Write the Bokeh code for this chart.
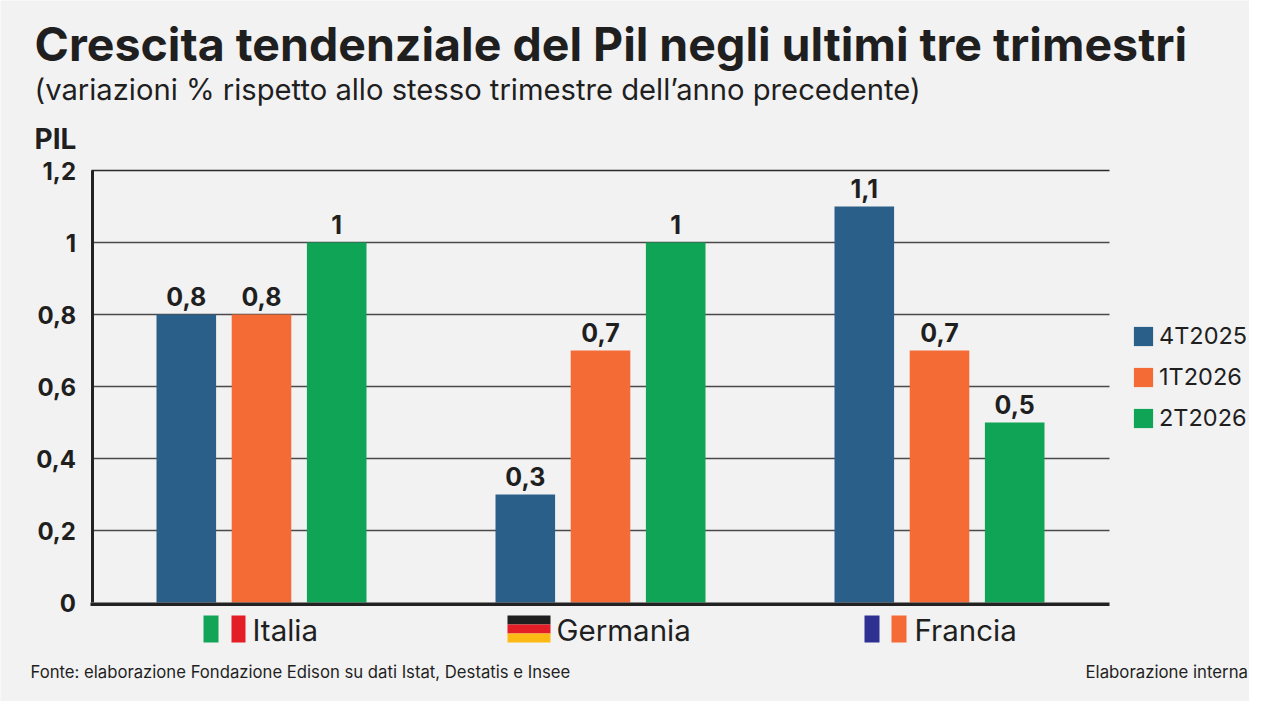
from bokeh.plotting import figure
from bokeh.core.properties import value
from bokeh.models import (ColumnDataSource, Range1d, FixedTicker, Label, BoxAnnotation, LinearAxis,
                          Legend, LegendItem)
from bokeh.embed import file_html
from bokeh.resources import INLINE

countries = ["Italia", "Germania", "Francia"]
quarters = ["4T2025", "1T2026", "2T2026"]
q4_2025 = [0.8, 0.3, 1.1]
q1_2026 = [0.8, 0.7, 0.7]
q2_2026 = [1.0, 1.0, 0.5]
y_ticks = [0, 0.2, 0.4, 0.6, 0.8, 1, 1.2]
colors = ["#2a5f8a", "#f46b36", "#10a457"]

BG = "#f2f2f2"
FONT = "Inter"
INK = "#1f1f1f"
W, H = 1249, 701

# pixel geometry of the reference: first group centre + spacing, y=0 pixel + px per unit
X0, XS = 261.0, 339.0
Y0, YS = 602.0, 360.0


def it(v):
    return f"{v:g}".replace(".", ",")


def dx(px):
    return (px - X0) / XS


p = figure(width=W, height=H, output_backend="svg", toolbar_location=None,
           x_axis_type=None, y_axis_type=None,
           x_range=Range1d(dx(0), dx(W)),
           y_range=Range1d((Y0 - H) / YS, Y0 / YS),
           background_fill_color=BG, border_fill_color=BG, outline_line_color=None,
           min_border=0, min_border_left=0, min_border_right=0, min_border_top=0, min_border_bottom=0)
p.styles = {"position": "absolute", "left": "0", "top": "0"}

p.xgrid.visible = False
p.ygrid.visible = False

p.segment(x0=dx(91), x1=dx(1109), y0=y_ticks[1:-1], y1=y_ticks[1:-1], line_color="#4a4a4a", line_width=1.3)
p.segment(x0=dx(91), x1=dx(1109), y0=[1.2], y1=[1.2], line_color="#2a2a2a", line_width=1.6)

step = 75.2 / XS
width = 59.6 / XS
cat_x = list(range(len(countries)))
legend_items = []
for i, (q, vals, col) in enumerate(zip(quarters, [q4_2025, q1_2026, q2_2026], colors)):
    src = ColumnDataSource(dict(x=[c + (i - 1) * step for c in cat_x], val=vals, lab=[it(v) for v in vals]))
    r = p.vbar(x="x", top="val", width=width, source=src, fill_color=col, line_color=None)
    p.text(x="x", y="val", text="lab", source=src, text_align="center", text_baseline="middle",
           y_offset=-18, text_font=value(FONT), text_font_style="bold", text_font_size=value("25px"),
           text_color=INK)
    legend_items.append(LegendItem(label=q, renderers=[r]))

p.segment(x0=dx(90), x1=dx(1109), y0=[-0.005], y1=[-0.005], line_color="#222222", line_width=3.6)

yax = LinearAxis(fixed_location=dx(91.5), bounds=(0, 1.2))
yax.ticker = FixedTicker(ticks=y_ticks)
yax.major_label_overrides = {t: it(t) for t in y_ticks}
yax.major_label_text_font = FONT
yax.major_label_text_font_style = "bold"
yax.major_label_text_font_size = "24px"
yax.major_label_text_color = INK
yax.major_label_standoff = 10
yax.major_tick_line_color = None
yax.minor_tick_line_color = None
yax.axis_line_color = "#222222"
yax.axis_line_width = 3
p.add_layout(yax, "left")

leg = Legend(items=legend_items, location=(1131, 269), orientation="vertical",
             glyph_width=24, glyph_height=24, label_standoff=4, spacing=12, padding=0, margin=0,
             border_line_color=None, background_fill_color=None, background_fill_alpha=0,
             label_text_font=FONT, label_text_font_size="23.5px", label_text_color=INK,
             label_height=19, label_width=86)
p.add_layout(leg, "center")


def text(s, x, y, size, bold=False, color=INK):
    p.add_layout(Label(x=x, y=y, x_units="canvas", y_units="canvas", text=s, text_font=FONT,
                       text_font_size=f"{size}px", text_font_style="bold" if bold else "normal",
                       text_color=color, text_baseline="alphabetic", text_align="left"))


text("Crescita tendenziale del Pil negli ultimi tre trimestri", 34, 43.5, 46.5, True)
text("(variazioni % rispetto allo stesso trimestre dell\u2019anno precedente)", 34, 89, 29.2)
text("PIL", 34, 138, 28, True)
for name, x in zip(countries, [252, 556, 914]):
    text(name, x, 629, 29.5)
text("Fonte: elaborazione Fondazione Edison su dati Istat, Destatis e Insee", 30, 671, 16.7)
text("Elaborazione interna", 1085, 671, 16.8)


def box(l, r, t, b, c):
    p.add_layout(BoxAnnotation(left=l, right=r, top=t, bottom=b, left_units="canvas", right_units="canvas",
                               top_units="canvas", bottom_units="canvas", fill_color=c, fill_alpha=1,
                               line_color=None, level="overlay"))


box(203, 218, 615, 642, "#12a457")
box(231, 245, 615, 642, "#e31e26")
box(507, 550, 615, 624, "#1f1f1f")
box(507, 550, 624, 633, "#e31e26")
box(507, 550, 633, 642, "#fdb913")
box(864, 879, 615, 642, "#2e3192")
box(891, 906, 615, 642, "#f46b36")

open("out.html", "w").write(file_html(p, INLINE))
